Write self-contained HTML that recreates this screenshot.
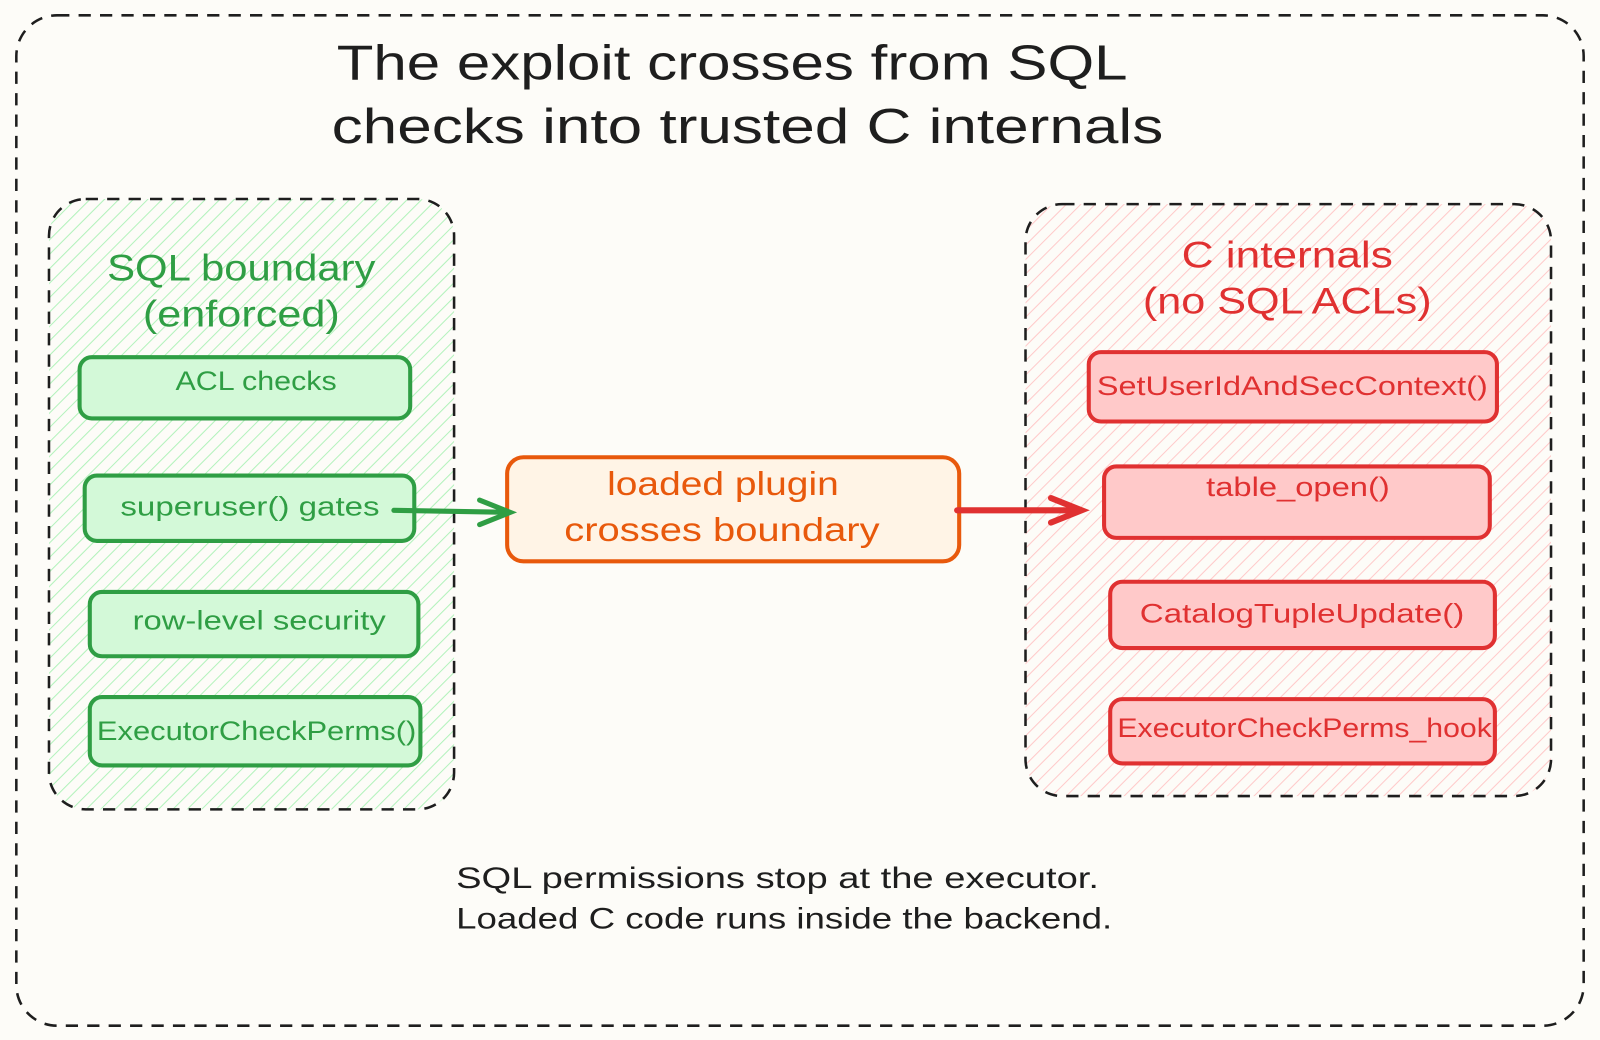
<!DOCTYPE html>
<html><head><meta charset="utf-8"><style>
html,body{margin:0;padding:0;background:#fdfcf8;}
svg{display:block}
text{font-family:"Liberation Sans",sans-serif;}
</style></head><body>
<svg width="1600" height="1040" viewBox="0 0 1568 1019" preserveAspectRatio="none" xmlns="http://www.w3.org/2000/svg">
<defs>
<pattern id="hg" width="10" height="10" patternUnits="userSpaceOnUse" patternTransform="rotate(45)">
<rect width="10" height="10" fill="#fdfcf8"/><line x1="0" y1="0" x2="0" y2="10" stroke="#b2f2bb" stroke-width="2"/></pattern>
<pattern id="hr" width="10" height="10" patternUnits="userSpaceOnUse" patternTransform="rotate(45)">
<rect width="10" height="10" fill="#fdfcf8"/><line x1="0" y1="0" x2="0" y2="10" stroke="#ffc9c9" stroke-width="2"/></pattern>
</defs>
<rect width="1568" height="1019" fill="#fdfcf8"/>
<rect x="16" y="15" width="1536" height="990" rx="40" fill="none" stroke="#1e1e1e" stroke-width="2.5" stroke-dasharray="12 9"/>
<text x="330" y="78" font-size="48" textLength="775" lengthAdjust="spacingAndGlyphs" fill="#1e1e1e">The exploit crosses from SQL</text>
<text x="325" y="140" font-size="48" textLength="815" lengthAdjust="spacingAndGlyphs" fill="#1e1e1e">checks into trusted C internals</text>

<rect x="48" y="195" width="397" height="598" rx="36" fill="url(#hg)" stroke="#1e1e1e" stroke-width="2.5" stroke-dasharray="12 9"/>
<text x="105" y="275" font-size="36" textLength="263" lengthAdjust="spacingAndGlyphs" fill="#2f9e44">SQL boundary</text>
<text x="140" y="320" font-size="36" textLength="193" lengthAdjust="spacingAndGlyphs" fill="#2f9e44">(enforced)</text>
<g fill="#d3f9d8" stroke="#2f9e44" stroke-width="4">
<rect x="78" y="350" width="324" height="60" rx="12"/>
<rect x="83" y="466" width="323" height="64" rx="12"/>
<rect x="88" y="580" width="322" height="63" rx="12"/>
<rect x="88" y="683" width="324" height="67" rx="12"/>
</g>
<g font-size="26" fill="#2f9e44" lengthAdjust="spacingAndGlyphs">
<text x="172" y="382" textLength="158" lengthAdjust="spacingAndGlyphs">ACL checks</text>
<text x="118" y="505" textLength="254" lengthAdjust="spacingAndGlyphs">superuser() gates</text>
<text x="130" y="617" textLength="248" lengthAdjust="spacingAndGlyphs">row-level security</text>
<text x="95" y="725" textLength="313" lengthAdjust="spacingAndGlyphs">ExecutorCheckPerms()</text>
</g>

<rect x="1005" y="200" width="515" height="580" rx="36" fill="url(#hr)" stroke="#1e1e1e" stroke-width="2.5" stroke-dasharray="12 9"/>
<text x="1158" y="262" font-size="36" textLength="207" lengthAdjust="spacingAndGlyphs" fill="#e03131">C internals</text>
<text x="1120" y="307" font-size="36" textLength="283" lengthAdjust="spacingAndGlyphs" fill="#e03131">(no SQL ACLs)</text>
<g fill="#ffc9c9" stroke="#e03131" stroke-width="4">
<rect x="1067" y="345" width="400" height="68" rx="12"/>
<rect x="1082" y="457" width="378" height="70" rx="12"/>
<rect x="1088" y="570" width="377" height="65" rx="12"/>
<rect x="1088" y="685" width="377" height="63" rx="12"/>
</g>
<g font-size="26" fill="#e03131">
<text x="1075" y="387" textLength="383" lengthAdjust="spacingAndGlyphs">SetUserIdAndSecContext()</text>
<text x="1182" y="486" textLength="180" lengthAdjust="spacingAndGlyphs">table_open()</text>
<text x="1117" y="610" textLength="318" lengthAdjust="spacingAndGlyphs">CatalogTupleUpdate()</text>
<text x="1095" y="722" textLength="367" lengthAdjust="spacingAndGlyphs">ExecutorCheckPerms_hook</text>
</g>

<rect x="497" y="448" width="443" height="102" rx="16" fill="#fff4e6" stroke="#e8590c" stroke-width="4"/>
<text x="595" y="485" font-size="33" textLength="227" lengthAdjust="spacingAndGlyphs" fill="#e8590c">loaded plugin</text>
<text x="553" y="530" font-size="33" textLength="309" lengthAdjust="spacingAndGlyphs" fill="#e8590c">crosses boundary</text>

<g stroke="#2f9e44" stroke-width="5" fill="none" stroke-linecap="round">
<path d="M386 500 L498 502"/><path d="M470 490 L500 502 L470 514"/>
</g>
<g stroke="#e03131" stroke-width="6" fill="none" stroke-linecap="round">
<path d="M938 500 L1058 500"/><path d="M1030 488 L1060 500 L1030 512"/>
</g>

<text x="447" y="870" font-size="29" textLength="630" lengthAdjust="spacingAndGlyphs" fill="#1e1e1e">SQL permissions stop at the executor.</text>
<text x="447" y="910" font-size="29" textLength="643" lengthAdjust="spacingAndGlyphs" fill="#1e1e1e">Loaded C code runs inside the backend.</text>
</svg>
</body></html>
